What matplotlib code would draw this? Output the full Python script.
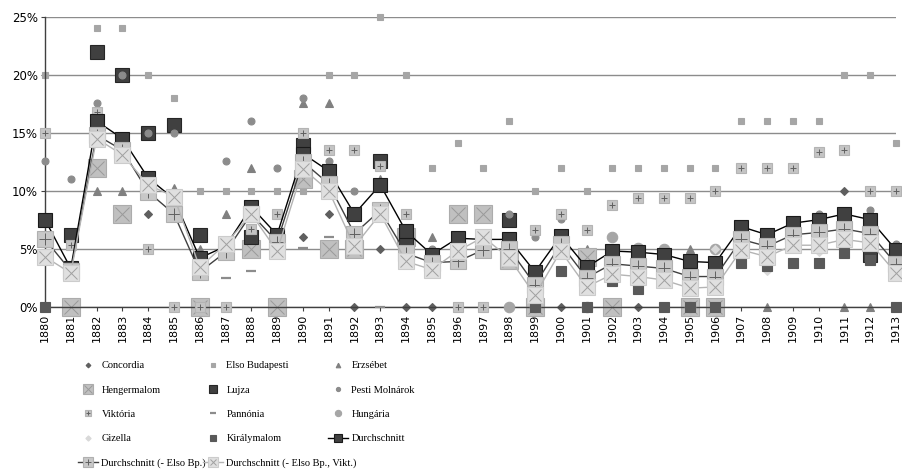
import numpy as np
import matplotlib
matplotlib.use('Agg')
import matplotlib.pyplot as plt
from matplotlib.legend_handler import HandlerTuple


# Years on the x axis
years = list(range(1880, 1914))

# Single mills (scatter only), year / value pairs in percent
concordia_yr = [1884, 1890, 1891, 1892, 1893, 1894, 1895, 1900, 1903, 1911]
concordia = [8, 6, 8, 0, 5, 0, 0, 0, 0, 10]

elso_yr = [1880] + list(range(1882, 1914))
elso = [20, 24, 24, 20, 18, 10, 10, 10, 10, 10, 20, 20, 25, 20, 12, 14.1, 12,
        16, 10, 12, 10, 12, 12, 12, 12, 12, 16, 16, 16, 16, 20, 20, 14.1]

erzsebet_yr = [1882, 1883, 1884, 1885, 1886, 1887, 1888, 1890, 1891, 1893,
               1895, 1896, 1901, 1905, 1908, 1911, 1912]
erzsebet = [10, 10, 10, 10.2, 5, 8, 12, 17.6, 17.6, 11, 6, 6.2, 5, 5, 0, 0, 0]

henger_yr = [1881, 1882, 1883, 1886, 1888, 1889, 1890, 1891, 1892, 1894,
             1896, 1897, 1898, 1899, 1901, 1902, 1905, 1906]
henger = [0, 12, 8, 0, 5, 0, 11, 5, 5, 6, 8, 8, 4, 0, 4.3, 0, 0, 0]

lujza_yr = [1881, 1882, 1883, 1884, 1885, 1886, 1888, 1890, 1893, 1894,
            1898, 1912]
lujza = [6.2, 22, 20, 15, 15.7, 6.2, 6, 13.9, 12.6, 5.9, 7.5, 4.5]

pesti_yr = [1880, 1881, 1882, 1883, 1884, 1885, 1887, 1888, 1889, 1890,
            1891, 1892, 1894, 1895, 1898, 1899, 1900, 1904, 1905, 1906,
            1910, 1912, 1913]
pesti = [12.6, 11, 17.6, 20, 15, 15, 12.6, 16, 12, 18, 12.6, 10, 5, 5, 8, 6,
         7.6, 0, 0, 0, 8, 8.3, 5.4]

viktoria_yr = [1880, 1881, 1882, 1884, 1885, 1886, 1887, 1888, 1889, 1890,
               1891, 1892, 1893, 1894, 1896, 1897, 1899, 1900, 1901, 1902,
               1903, 1904, 1905, 1906, 1907, 1908, 1909, 1910, 1911, 1912,
               1913]
viktoria = [15, 5.3, 16.8, 5, 0, 0, 0, 6.7, 8, 15, 13.5, 13.5, 12.1, 8, 0, 0,
            6.6, 8, 6.6, 8.8, 9.4, 9.4, 9.4, 10, 12, 12, 12, 13.3, 13.5, 10, 10]

pannonia_yr = [1887, 1888, 1890, 1891, 1893]
pannonia = [2.5, 3.1, 5.1, 6, 0]

hungaria_yr = [1898, 1899, 1901, 1902, 1903, 1904, 1905, 1906]
hungaria = [0, 0, 0, 6, 5.1, 5, 0, 5]

gizella_yr = [1906, 1908, 1910]
gizella = [5, 3.1, 4.7]

kiraly_yr = [1880, 1899, 1900, 1901, 1902, 1903, 1904, 1905, 1906, 1907,
             1908, 1909, 1910, 1911, 1912, 1913]
kiraly = [0, 0, 3.1, 0, 2.2, 1.5, 0, 0, 0, 3.8, 3.5, 3.8, 3.8, 4.6, 4.0, 0]

# Averages (lines), one value per year
avg_all = [7.5, 3.3, 16, 14.5, 11.1, 9.3, 4.2, 5.2, 8.6, 6.2, 13.2, 11.7, 8,
           10.5, 6.5, 4.5, 5.9, 5.8, 5.8, 3, 6.1, 3.4, 4.8, 4.7, 4.5, 3.9,
           3.8, 6.9, 6.2, 7.2, 7.5, 8.0, 7.5, 4.9]
avg_no_elso = [5.8, 3.1, 14.8, 13.5, 9.9, 8.0, 3.0, 4.7, 8.0, 5.6, 12.5,
               10.6, 6.3, 8.3, 4.6, 3.8, 3.9, 4.9, 5.0, 1.9, 5.4, 2.5, 3.7,
               3.5, 3.3, 2.6, 2.6, 5.8, 5.2, 6.2, 6.4, 6.7, 6.3, 3.7]
avg_no_elso_vikt = [4.3, 2.9, 14.5, 13.1, 10.5, 9.5, 3.4, 5.4, 8.0, 4.8,
                    11.9, 10.0, 5.2, 8.0, 3.9, 3.2, 4.8, 6.0, 4.2, 1.0, 4.8,
                    1.7, 2.8, 2.6, 2.3, 1.6, 1.7, 4.9, 4.3, 5.3, 5.3, 5.8,
                    5.5, 2.9]


fig = plt.figure(figsize=(9.02, 4.72), dpi=100)
ax = fig.add_axes([45 / 902, 1 - 306.7 / 472, (896 - 45) / 902,
                   (306.7 - 16.7) / 472])

zc = [2.0]


def series(x, y, marker, ms, fc, ec=None, over=None, oms=None, oc=None,
           ls='none', lc='k', mew=0.8):
    zc[0] += 0.1
    h, = ax.plot(x, y, ls=ls, color=lc, lw=1, marker=marker, ms=ms, mfc=fc,
                 mec=ec or fc, mew=mew, clip_on=False, zorder=zc[0])
    if over is None:
        return h
    h2, = ax.plot(x, y, ls='none', marker=over, ms=oms, mec=oc, mew=0.7,
                  clip_on=False, zorder=zc[0] + 0.05)
    return (h, h2)


handles = [
    series(concordia_yr, concordia, 'D', 4.0, '#5f5f5f'),
    series(elso_yr, elso, 's', 5.0, '#a6a6a6'),
    series(erzsebet_yr, erzsebet, '^', 5.5, '#808080'),
    series(henger_yr, henger, 's', 13, '#c0c0c0', '#acacac', 'x', 10,
           '#9a9a9a'),
    series(lujza_yr, lujza, 's', 10, '#404040', '#262626'),
    series(pesti_yr, pesti, 'o', 5.0, '#8c8c8c'),
    series(viktoria_yr, viktoria, 's', 7, '#c4c4c4', '#b4b4b4', '+', 5,
           '#606060'),
    series(pannonia_yr, pannonia, '_', 7, '#8c8c8c', '#8c8c8c', mew=1.6),
    series(hungaria_yr, hungaria, 'o', 7.5, '#a6a6a6'),
    series(gizella_yr, gizella, 'D', 4.5, '#d9d9d9'),
    series(kiraly_yr, kiraly, 's', 6.5, '#595959'),
    series(years, avg_all, 's', 10, '#404040', '#1a1a1a', ls='-', lc='#000000'),
    series(years, avg_no_elso, 's', 11, '#c8c8c8', '#b0b0b0', '+', 8,
           '#606060', ls='-', lc='#404040'),
    series(years, avg_no_elso_vikt, 's', 11, '#e0e0e0', '#cccccc', 'x', 8,
           '#a0a0a0', ls='-', lc='#b4b4b4'),
]
labels = ['Concordia', 'Elso Budapesti', 'Erzsébet', 'Hengermalom', 'Lujza',
          'Pesti Molnárok', 'Viktória', 'Pannónia', 'Hungária', 'Gizella',
          'Királymalom', 'Durchschnitt', 'Durchschnitt (- Elso Bp.)',
          'Durchschnitt (- Elso Bp., Vikt.)']

ax.set_xlim(1880, 1913)
ax.set_ylim(0, 25)
ax.set_xticks(years)
ax.set_xticklabels([str(y) for y in years], rotation=90, fontsize=8)
ax.set_yticks(range(0, 26, 5))
ax.set_yticklabels([f'{v}%' for v in range(0, 26, 5)], fontsize=8.5)
ax.tick_params(axis='both', direction='out', length=3, width=0.8,
               color='#404040', pad=2)
ax.yaxis.grid(True, color='#8c8c8c', lw=1)
ax.set_axisbelow(True)
for s in ['top', 'right']:
    ax.spines[s].set_visible(False)
for s in ['left', 'bottom']:
    ax.spines[s].set_color('#404040')
    ax.spines[s].set_linewidth(1)

# Legend: three columns built as three legends
cols = [[0, 3, 6, 9, 12], [1, 4, 7, 10, 13], [2, 5, 8, 11]]
col_x = [78 / 902, 203 / 902, 328 / 902]
for idx, cx in zip(cols, col_x):
    fig.legend([handles[i] for i in idx], [labels[i] for i in idx],
               loc='upper left', bbox_to_anchor=(cx, 1 - 361 / 472),
               frameon=False, borderpad=0, borderaxespad=0,
               prop={'family': 'Liberation Serif', 'size': 7.5},
               handlelength=1.9, handletextpad=0.35, labelspacing=1.45,
               markerscale=0.6, handler_map={tuple: HandlerTuple(ndivide=1)})

fig.savefig('out.png', dpi=100)
